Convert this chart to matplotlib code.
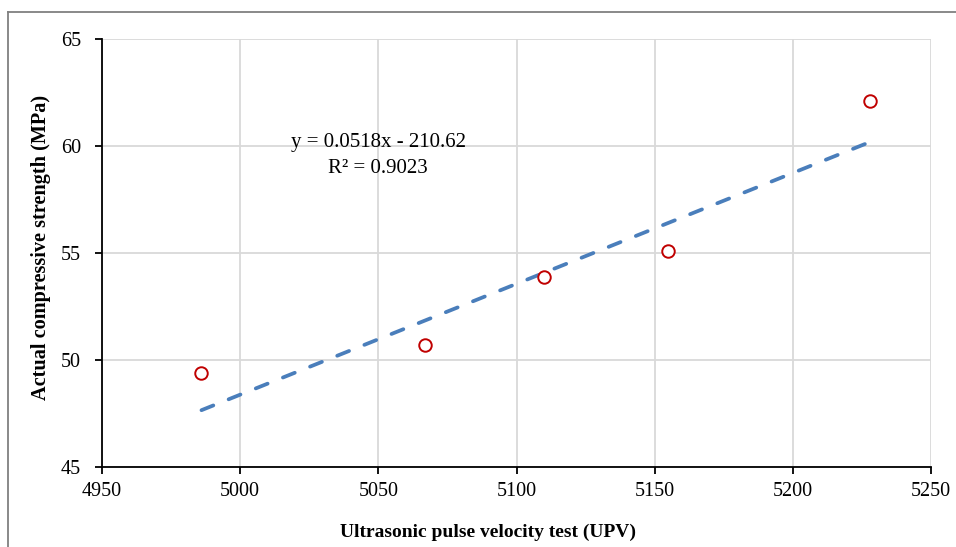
import matplotlib
matplotlib.use('Agg')
import matplotlib.pyplot as plt
from matplotlib.lines import Line2D
import numpy as np

# UPV readings and measured strengths
upv = [4986, 5067, 5110, 5155, 5228]
strength = [49.4, 50.7, 53.9, 55.1, 62.1]

# linear trend as reported on the chart
slope = 0.0518
intercept = -210.62
r2 = 0.9023

plt.rcParams['font.family'] = ['Liberation Serif', 'DejaVu Serif']

fig = plt.figure(figsize=(9.56, 5.47), dpi=100)
ax = fig.add_axes([102/956, 1 - 467/547, 829/956, 428/547])

trend_x = np.array([min(upv), max(upv)])
trend_y = slope * trend_x + intercept
ax.plot(trend_x, trend_y, color='#4a7ebb', lw=2.7, dashes=(3.4, 4.4),
        dash_capstyle='round', zorder=2)
ax.plot(upv, strength, 'o', ms=9, mfc='white', mec='#c00000', mew=1.4, zorder=3)

ax.set_xlim(4950, 5250)
ax.set_ylim(45, 65)
ax.set_xticks(range(4950, 5251, 50))
ax.set_yticks(range(45, 66, 5))
ax.grid(True, color='#d9d9d9', lw=1.3)
ax.set_axisbelow(True)
for s in ['top', 'right']:
    ax.spines[s].set_visible(False)
for s in ['left', 'bottom']:
    ax.spines[s].set_linewidth(1.3)
ax.tick_params(direction='out', length=5, width=1.3, labelsize=14.5)
ax.tick_params(axis='x', pad=6)
ax.tick_params(axis='y', pad=10)

ax.set_xlabel('Ultrasonic pulse velocity test (UPV)', fontsize=14, fontweight='bold')
ax.set_ylabel('Actual compressive strength (MPa)', fontsize=14.6, fontweight='bold')
ax.xaxis.set_label_coords(0.4656, -0.133)
ax.yaxis.set_label_coords(-0.061, 0.514)

eq = 'y = %.4fx - %.2f\nR² = %.4f' % (slope, -intercept, r2)
ax.text(5050, 59.55, eq, fontsize=15, ha='center', va='center', linespacing=1.45)

# gray frame round the chart
fig.add_artist(Line2D([8/956, 8/956], [0, 1 - 12/547], transform=fig.transFigure, color='#808080', lw=1.3))
fig.add_artist(Line2D([8/956, 1], [1 - 12/547, 1 - 12/547], transform=fig.transFigure, color='#808080', lw=1.3))

fig.savefig('out.png', dpi=100)
